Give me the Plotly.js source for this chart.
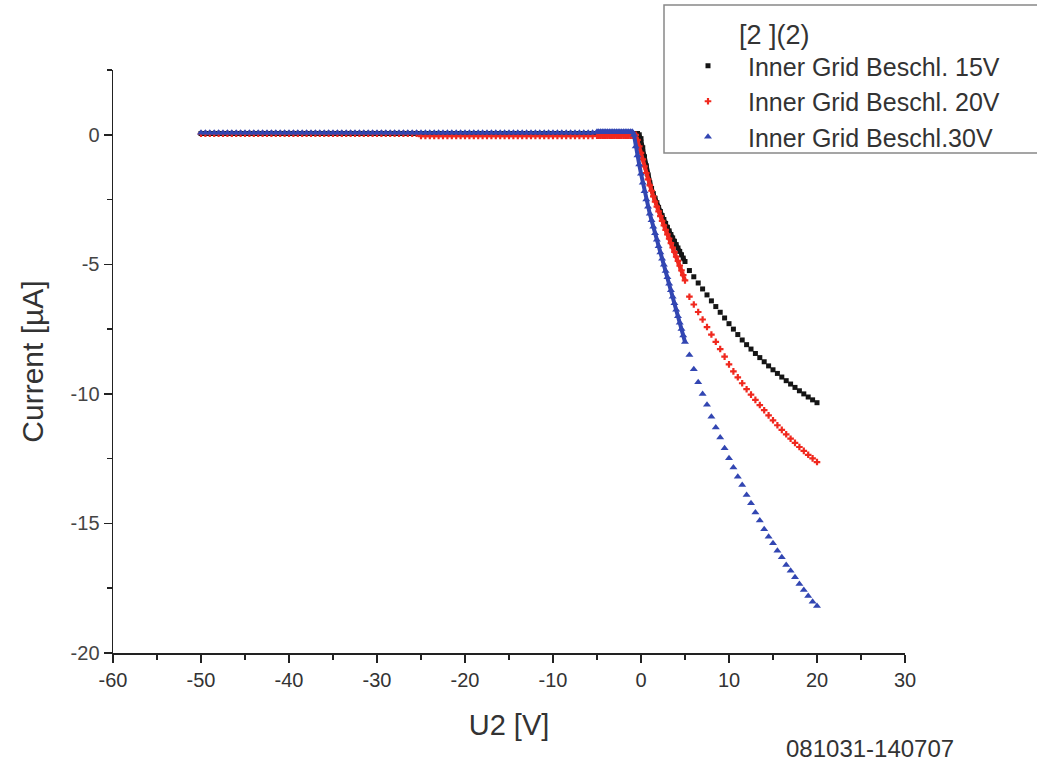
<!DOCTYPE html>
<html>
<head>
<meta charset="utf-8">
<script src="https://cdn.plot.ly/plotly-3.0.1.min.js"></script>
<style>html,body{margin:0;padding:0;background:#fff;}#chart{width:1037px;height:763px;}</style>
</head>
<body>
<div id="chart"></div>
<script>
// ---- Data ----
var seriesNames = ["Inner Grid Beschl. 15V", "Inner Grid Beschl. 20V", "Inner Grid Beschl.30V"];

// flat sweep region, 0.5 V steps
var xFlat = [-50,-49.5,-49,-48.5,-48,-47.5,-47,-46.5,-46,-45.5,-45,-44.5,-44,-43.5,-43,-42.5,-42,-41.5,-41,-40.5,
  -40,-39.5,-39,-38.5,-38,-37.5,-37,-36.5,-36,-35.5,-35,-34.5,-34,-33.5,-33,-32.5,-32,-31.5,-31,-30.5,
  -30,-29.5,-29,-28.5,-28,-27.5,-27,-26.5,-26,-25.5,-25,-24.5,-24,-23.5,-23,-22.5,-22,-21.5,-21,-20.5,
  -20,-19.5,-19,-18.5,-18,-17.5,-17,-16.5,-16,-15.5,-15,-14.5,-14,-13.5,-13,-12.5,-12,-11.5,-11,-10.5,
  -10,-9.5,-9,-8.5,-8,-7.5,-7,-6.5,-6,-5.5];
var yFlat15 = [0.05,0.05,0.05,0.05,0.05,0.05,0.05,0.05,0.05,0.05,0.05,0.05,0.05,0.05,0.05,0.05,0.05,0.05,0.05,0.05,
  0.05,0.05,0.05,0.05,0.05,0.05,0.05,0.05,0.05,0.05,0.05,0.05,0.05,0.05,0.05,0.05,0.05,0.05,0.05,0.05,
  0.05,0.05,0.05,0.05,0.05,0.05,0.05,0.05,0.05,0.05,0.05,0.05,0.05,0.05,0.05,0.05,0.05,0.05,0.05,0.05,
  0.05,0.05,0.05,0.05,0.05,0.05,0.05,0.05,0.05,0.05,0.05,0.05,0.05,0.05,0.05,0.05,0.05,0.05,0.05,0.05,
  0.05,0.05,0.05,0.05,0.05,0.05,0.05,0.05,0.05,0.05];
var yFlat20 = [0.04,0.04,0.04,0.04,0.04,0.04,0.04,0.04,0.04,0.04,0.04,0.04,0.04,0.04,0.04,0.04,0.04,0.04,0.04,0.04,
  0.04,0.04,0.04,0.04,0.04,0.04,0.04,0.04,0.04,0.04,0.04,0.04,0.04,0.04,0.04,0.04,0.04,0.04,0.04,0.04,
  0.04,0.04,0.04,0.04,0.04,0.04,0.04,0.04,0.04,0.04,-0.05,-0.05,-0.05,-0.05,-0.05,-0.05,-0.05,-0.05,-0.05,-0.05,
  -0.05,-0.05,-0.05,-0.05,-0.05,-0.05,-0.05,-0.05,-0.05,-0.05,-0.05,-0.05,-0.05,-0.05,-0.05,-0.05,-0.05,-0.05,-0.05,-0.05,
  -0.05,-0.05,-0.05,-0.05,-0.05,-0.05,-0.05,-0.05,-0.05,-0.05];
var yFlat30 = [0.08,0.08,0.08,0.08,0.08,0.08,0.08,0.08,0.08,0.08,0.08,0.08,0.08,0.08,0.08,0.08,0.08,0.08,0.08,0.08,
  0.08,0.08,0.08,0.08,0.08,0.08,0.08,0.08,0.08,0.08,0.08,0.08,0.08,0.08,0.08,0.08,0.08,0.08,0.08,0.08,
  0.08,0.08,0.08,0.08,0.08,0.08,0.08,0.08,0.08,0.08,0.08,0.08,0.08,0.08,0.08,0.08,0.08,0.08,0.08,0.08,
  0.08,0.08,0.08,0.08,0.08,0.08,0.08,0.08,0.08,0.08,0.08,0.08,0.08,0.08,0.08,0.08,0.08,0.08,0.08,0.08,
  0.08,0.08,0.08,0.08,0.08,0.08,0.08,0.08,0.08,0.08];

// dense region around the knee, 0.2 V steps
var xDense = [-5,-4.8,-4.6,-4.4,-4.2,-4,-3.8,-3.6,-3.4,-3.2,-3,-2.8,-2.6,-2.4,-2.2,-2,-1.8,-1.6,-1.4,-1.2,
  -1,-0.8,-0.6,-0.4,-0.2,0,0.2,0.4,0.6,0.8,1,1.2,1.4,1.6,1.8,2,2.2,2.4,2.6,2.8,
  3,3.2,3.4,3.6,3.8,4,4.2,4.4,4.6,4.8,5];
var yDense15 = [0.05,0.05,0.05,0.05,0.05,0.05,0.05,0.05,0.05,0.05,0.05,0.05,0.05,0.05,0.05,0.05,0.05,0.05,0.05,0.05,
  0.05,0.05,0.05,0.05,0.0,-0.15,-0.5,-0.85,-1.2,-1.55,-1.85,-2.07,-2.27,-2.45,-2.62,-2.8,-2.96,-3.12,-3.27,-3.42,
  -3.57,-3.71,-3.85,-3.98,-4.11,-4.24,-4.37,-4.5,-4.63,-4.76,-4.89];
var yDense20 = [-0.04,-0.04,-0.04,-0.04,-0.04,-0.04,-0.04,-0.04,-0.04,-0.04,-0.04,-0.04,-0.04,-0.04,-0.04,-0.04,-0.04,-0.04,-0.04,-0.04,
  -0.04,-0.02,0.0,-0.2,-0.45,-0.7,-0.95,-1.22,-1.48,-1.72,-1.95,-2.16,-2.38,-2.58,-2.77,-2.96,-3.14,-3.32,-3.5,-3.67,
  -3.84,-4.01,-4.18,-4.35,-4.52,-4.7,-4.87,-5.05,-5.23,-5.42,-5.62];
var yDense30 = [0.12,0.12,0.12,0.12,0.12,0.12,0.12,0.12,0.12,0.12,0.12,0.12,0.12,0.12,0.12,0.12,0.12,0.12,0.12,0.12,
  0.12,0.0,-0.45,-0.8,-1.15,-1.5,-1.85,-2.18,-2.5,-2.78,-3.05,-3.3,-3.55,-3.8,-4.05,-4.3,-4.54,-4.78,-5.02,-5.26,
  -5.5,-5.75,-6.0,-6.25,-6.5,-6.75,-7.0,-7.25,-7.5,-7.75,-8.0];

// tail region, 0.5 V steps
var xTail = [5.5,6,6.5,7,7.5,8,8.5,9,9.5,10,10.5,11,11.5,12,12.5,13,13.5,14,14.5,15,
  15.5,16,16.5,17,17.5,18,18.5,19,19.5,20];
var yTail15 = [-5.24,-5.48,-5.72,-5.95,-6.18,-6.41,-6.63,-6.85,-7.07,-7.29,-7.5,-7.71,-7.92,-8.1,-8.27,-8.44,-8.6,-8.76,-8.92,-9.07,
  -9.21,-9.35,-9.49,-9.62,-9.75,-9.88,-10.0,-10.12,-10.23,-10.34];
var yTail20 = [-6.25,-6.55,-6.84,-7.13,-7.42,-7.71,-7.99,-8.27,-8.56,-8.86,-9.13,-9.36,-9.59,-9.82,-10.03,-10.23,-10.43,-10.63,-10.83,-11.02,
  -11.21,-11.39,-11.56,-11.73,-11.89,-12.05,-12.2,-12.35,-12.49,-12.63];
var yTail30 = [-8.5,-9.05,-9.55,-10.0,-10.42,-10.88,-11.3,-11.68,-12.1,-12.48,-12.84,-13.2,-13.52,-13.9,-14.22,-14.58,-14.89,-15.22,-15.51,-15.76,
  -16.05,-16.3,-16.6,-16.83,-17.08,-17.34,-17.57,-17.8,-18.02,-18.19];

var xTickVals = [-60,-50,-40,-30,-20,-10,0,10,20,30];
var xTickText = ["-60","-50","-40","-30","-20","-10","0","10","20","30"];
var yTickVals = [-20,-15,-10,-5,0];
var yTickText = ["-20","-15","-10","-5","0"];

// ---- Styles ----
var colors = ["#151515", "#f0281e", "#3246b2"];
var symbols = ["square", "cross", "triangle-up"];
var sizes = [5, 5.5, 7];
var yFlats = [yFlat15, yFlat20, yFlat30];
var yDenses = [yDense15, yDense20, yDense30];
var yTails = [yTail15, yTail20, yTail30];

var traces = [];
for (var i = 0; i < 3; i++) {
  traces.push({
    type: "scatter", mode: "lines", x: xDense, y: yDenses[i],
    line: {color: colors[i], width: 4}, showlegend: false, hoverinfo: "skip"
  });
  traces.push({
    type: "scatter", mode: "markers",
    x: xFlat.concat(xDense, xTail),
    y: yFlats[i].concat(yDenses[i], yTails[i]),
    name: seriesNames[i],
    marker: {color: colors[i], symbol: symbols[i], size: sizes[i], line: {width: 0}}
  });
}

var W = 1037, H = 763, ML = 113, MR = 132, MT = 70, MB = 110;
var PW = W - ML - MR, PH = H - MT - MB;
function px2x(p) { return (p - ML) / PW; }
function px2y(p) { return (H - MB - p) / PH; }

var font = "Liberation Sans, Arial, sans-serif";
var layout = {
  width: W, height: H,
  margin: {l: ML, r: MR, t: MT, b: MB, pad: 0},
  paper_bgcolor: "#fff", plot_bgcolor: "#fff",
  font: {family: font, color: "#333"},
  showlegend: true,
  legend: {
    x: px2x(668), y: px2y(43), xanchor: "left", yanchor: "top",
    bgcolor: "rgba(0,0,0,0)", borderwidth: 0,
    font: {family: font, size: 25, color: "#333"},
    tracegroupgap: 0, itemsizing: "trace", itemwidth: 70
  },
  xaxis: {
    range: [-60, 30], tickmode: "array", tickvals: xTickVals, ticktext: xTickText,
    ticks: "outside", ticklen: 8, tickwidth: 1.5, tickcolor: "#222",
    minor: {dtick: 5, tick0: 0, ticks: "outside", ticklen: 5, tickwidth: 1.5, tickcolor: "#222"},
    showline: true, linecolor: "#222", linewidth: 1.5,
    showgrid: false, zeroline: false,
    tickfont: {family: font, size: 20, color: "#333"},
    title: {text: "U2 [V]", font: {family: font, size: 29, color: "#333"}, standoff: 25}
  },
  yaxis: {
    range: [-20, 2.5], tickmode: "array", tickvals: yTickVals, ticktext: yTickText,
    ticks: "outside", ticklen: 8, tickwidth: 1.5, tickcolor: "#222",
    minor: {dtick: 2.5, tick0: 0, ticks: "outside", ticklen: 5, tickwidth: 1.5, tickcolor: "#222"},
    showline: true, linecolor: "#222", linewidth: 1.5,
    showgrid: false, zeroline: false,
    tickfont: {family: font, size: 20, color: "#444"},
    title: {text: "Current [µA]", font: {family: font, size: 30, color: "#333"}, standoff: 18}
  },
  shapes: [{
    type: "rect", xref: "paper", yref: "paper",
    x0: px2x(664), x1: px2x(1050), y0: px2y(153), y1: px2y(5),
    line: {color: "#888", width: 1.5}, fillcolor: "rgba(0,0,0,0)", layer: "above"
  }],
  annotations: [
    {text: "[2 ](2)", xref: "paper", yref: "paper", x: px2x(737), y: px2y(35),
     xanchor: "left", yanchor: "middle", showarrow: false,
     font: {family: font, size: 27, color: "#333"}},
    {text: "081031-140707", xref: "paper", yref: "paper", x: px2x(870), y: px2y(748),
     xanchor: "center", yanchor: "middle", showarrow: false,
     font: {family: font, size: 24, color: "#333"}}
  ]
};

Plotly.newPlot("chart", traces, layout, {staticPlot: true, displayModeBar: false});
</script>
</body>
</html>
